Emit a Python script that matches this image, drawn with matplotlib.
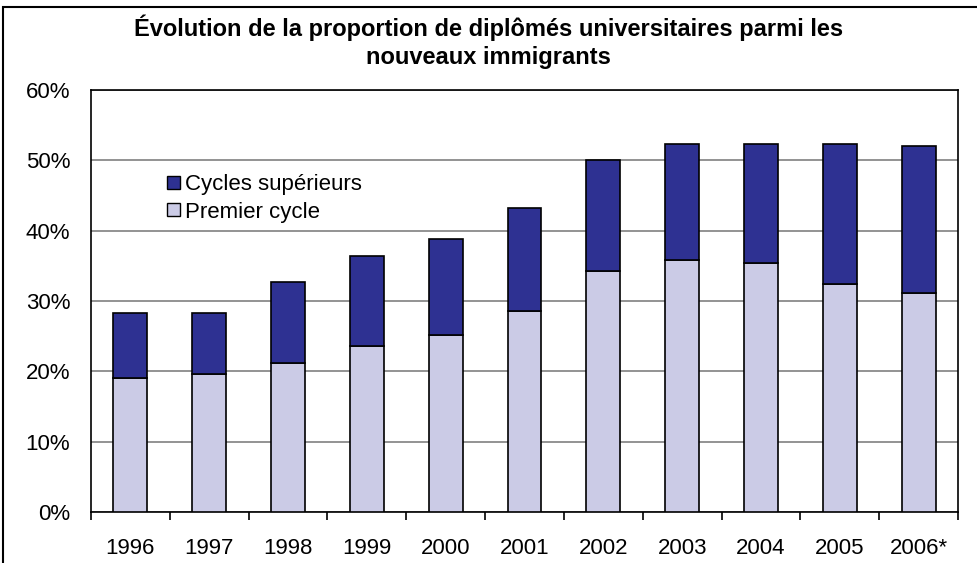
import numpy as np
import matplotlib.pyplot as plt
from matplotlib.patches import Rectangle, Patch

years = ["1996", "1997", "1998", "1999", "2000", "2001", "2002", "2003", "2004", "2005", "2006*"]
premier = [19.1, 19.6, 21.2, 23.6, 25.2, 28.6, 34.3, 35.8, 35.4, 32.4, 31.2]
total = [28.3, 28.3, 32.7, 36.4, 38.8, 43.2, 50.1, 52.3, 52.3, 52.3, 52.1]
superieurs = [t - p for t, p in zip(total, premier)]

dark = "#2e3192"
light = "#cbcbe6"

plt.rcParams['font.family'] = ['Liberation Sans', 'DejaVu Sans']

fig = plt.figure(figsize=(9.77, 5.63), dpi=100)
ax = fig.add_axes([91/977, 51/563, 867/977, 422/563])

# outer frame of the picture (cut on right and bottom)
fig.patches.append(Rectangle((3/977, -0.1), 1.2, (563-7)/563 + 0.1, transform=fig.transFigure,
                             fill=False, edgecolor="black", linewidth=1.5))

x = np.arange(len(years))
ax.bar(x, premier, width=0.43, color=light, edgecolor="black", linewidth=1.2, zorder=3)
ax.bar(x, superieurs, width=0.43, bottom=premier, color=dark, edgecolor="black", linewidth=1.2, zorder=3)

ax.set_xlim(-0.5, len(years) - 0.5)
ax.set_ylim(0, 60)
ax.set_yticks(np.arange(0, 61, 10))
ax.set_yticklabels([f"{v}%" for v in range(0, 61, 10)], fontsize=16)
ax.yaxis.grid(True, color="#808080", linewidth=1.2, zorder=0)
ax.tick_params(axis="y", length=0, pad=15)

ax.set_xticks(x)
ax.set_xticklabels(years, fontsize=16)
ax.tick_params(axis="x", length=0, pad=19)
ax.set_xticks(np.arange(-0.5, len(years)), minor=True)
ax.tick_params(axis="x", which="minor", length=6, width=1.2, direction="out")

for s in ax.spines.values():
    s.set_linewidth(1.2)
    s.set_color("black")

fig.text(0.5, 0.975, "Évolution de la proportion de diplômés universitaires parmi les\nnouveaux immigrants",
         ha="center", va="top", fontsize=17, fontweight="bold", linespacing=1.3)

handles = [Patch(facecolor=dark, edgecolor="black"), Patch(facecolor=light, edgecolor="black")]
ax.legend(handles, ["Cycles supérieurs", "Premier cycle"], loc="upper left",
          bbox_to_anchor=(0.088, 0.80), frameon=False, fontsize=16,
          handlelength=0.55, handleheight=0.55, handletextpad=0.25, labelspacing=0.28,
          borderaxespad=0, borderpad=0)

fig.savefig("out.png", dpi=100)
